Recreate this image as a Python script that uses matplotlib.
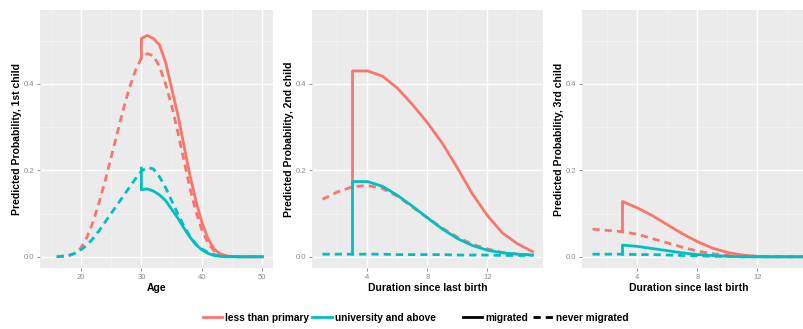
import numpy as np
import matplotlib
matplotlib.use('Agg')
import matplotlib.pyplot as plt
from matplotlib.lines import Line2D
from matplotlib.ticker import MultipleLocator

plt.rcParams['font.family'] = ['Liberation Sans', 'DejaVu Sans']

RED = '#F8766D'
CYAN = '#00BFC4'

# panel 1: age
age = [16, 18, 19, 20, 21, 22, 23, 24, 25, 26, 27, 28, 29, 30, 31, 32, 33,
       34, 35, 36, 37, 38, 39, 40, 41, 42, 43, 44, 46, 50]
p1_red_never = [0.0, 0.002, 0.008, 0.02, 0.045, 0.08, 0.125, 0.175, 0.23, 0.285,
                0.34, 0.39, 0.43, 0.46, 0.47, 0.465, 0.44, 0.40, 0.35, 0.29,
                0.225, 0.16, 0.105, 0.062, 0.032, 0.014, 0.005, 0.002, 0.0, 0.0]
p1_cyan_never = [0.0, 0.003, 0.008, 0.016, 0.027, 0.042, 0.06, 0.08, 0.1, 0.12,
                 0.14, 0.16, 0.18, 0.198, 0.207, 0.203, 0.185, 0.16, 0.13, 0.1,
                 0.072, 0.048, 0.03, 0.018, 0.01, 0.005, 0.002, 0.001, 0.0, 0.0]
age_mig = [30, 30, 31, 32, 33, 34, 35, 36, 37, 38, 39, 40, 41, 42, 43, 44, 46, 50]
p1_red_mig = [0.46, 0.505, 0.512, 0.505, 0.49, 0.45, 0.39, 0.33, 0.26, 0.19,
              0.13, 0.08, 0.042, 0.018, 0.007, 0.002, 0.0, 0.0]
p1_cyan_mig = [0.205, 0.155, 0.157, 0.152, 0.143, 0.13, 0.11, 0.09, 0.067, 0.046,
               0.028, 0.016, 0.008, 0.003, 0.001, 0.0, 0.0, 0.0]

# panels 2 and 3: duration since last birth
dur = [1, 2, 3, 4, 5, 6, 7, 8, 9, 10, 11, 12, 13, 14, 15]
dur_mig = [3, 3, 4, 5, 6, 7, 8, 9, 10, 11, 12, 13, 14, 15]

p2_red_never = [0.133, 0.15, 0.162, 0.165, 0.158, 0.14, 0.115, 0.09, 0.066, 0.045,
                0.029, 0.018, 0.01, 0.006, 0.004]
p2_cyan_never = [0.006, 0.006, 0.006, 0.006, 0.006, 0.005, 0.005, 0.005, 0.005,
                 0.004, 0.004, 0.004, 0.003, 0.003, 0.003]
p2_red_mig = [0.162, 0.43, 0.43, 0.418, 0.39, 0.352, 0.31, 0.262, 0.205, 0.145,
              0.095, 0.055, 0.03, 0.012]
p2_cyan_mig = [0.006, 0.174, 0.174, 0.163, 0.142, 0.117, 0.09, 0.064, 0.042, 0.026,
               0.015, 0.009, 0.006, 0.004]

p3_red_never = [0.064, 0.061, 0.058, 0.052, 0.042, 0.032, 0.022, 0.013, 0.007,
                0.003, 0.001, 0.0, 0.0, 0.0, 0.0]
p3_cyan_never = [0.006, 0.006, 0.006, 0.005, 0.005, 0.004, 0.003, 0.002, 0.001,
                 0.001, 0.0, 0.0, 0.0, 0.0, 0.0]
p3_red_mig = [0.058, 0.128, 0.113, 0.095, 0.074, 0.053, 0.035, 0.02, 0.01, 0.004,
              0.001, 0.0, 0.0, 0.0]
p3_cyan_mig = [0.006, 0.027, 0.024, 0.019, 0.014, 0.009, 0.005, 0.003, 0.001,
               0.0, 0.0, 0.0, 0.0, 0.0]

LW = 2.0
DASH = (0, (2.6, 1.8))

fig = plt.figure(figsize=(8.04, 3.29), dpi=100)

def style(ax, xmaj, xmin, xlim, ylabel, xlabel):
    ax.set_facecolor('#EBEBEB')
    for s in ax.spines.values():
        s.set_visible(False)
    ax.xaxis.set_major_locator(MultipleLocator(xmaj))
    ax.xaxis.set_minor_locator(MultipleLocator(xmin))
    ax.yaxis.set_major_locator(MultipleLocator(0.2))
    ax.yaxis.set_minor_locator(MultipleLocator(0.1))
    ax.grid(True, which='major', color='white', lw=1.0)
    ax.grid(True, which='minor', color='#F5F5F5', lw=0.5)
    ax.set_axisbelow(True)
    ax.set_xlim(*xlim)
    ax.set_ylim(-0.026, 0.571)
    ax.tick_params(which='major', length=2.5, width=0.6, color='#7F7F7F',
                   labelsize=5.5, labelcolor='#8A8A8A', pad=1.5)
    ax.tick_params(which='minor', length=0)
    ax.set_ylabel(ylabel, fontsize=7.5, fontweight='bold', labelpad=1.5)
    ax.set_xlabel(xlabel, fontsize=7.5, fontweight='bold', labelpad=2)
    ax.yaxis.set_major_formatter(matplotlib.ticker.FormatStrFormatter('%.1f'))

ax1 = fig.add_axes([40 / 804, 61 / 329, 233 / 804, 258 / 329])
ax2 = fig.add_axes([312 / 804, 61 / 329, 231 / 804, 258 / 329])
ax3 = fig.add_axes([582 / 804, 61 / 329, 231 / 804, 258 / 329])

ax1.plot(age, p1_red_never, color=RED, lw=LW, ls=DASH)
ax1.plot(age_mig, p1_red_mig, color=RED, lw=LW)
ax1.plot(age, p1_cyan_never, color=CYAN, lw=LW, ls=DASH)
ax1.plot(age_mig, p1_cyan_mig, color=CYAN, lw=LW)
style(ax1, 10, 5, (13.25, 51.75), 'Predicted Probability, 1st child', 'Age')

ax2.plot(dur, p2_red_never, color=RED, lw=LW, ls=DASH)
ax2.plot(dur_mig, p2_red_mig, color=RED, lw=LW)
ax2.plot(dur, p2_cyan_never, color=CYAN, lw=LW, ls=DASH)
ax2.plot(dur_mig, p2_cyan_mig, color=CYAN, lw=LW)
style(ax2, 4, 2, (0.3, 15.7), 'Predicted Probability, 2nd child', 'Duration since last birth')

ax3.plot(dur, p3_red_never, color=RED, lw=LW, ls=DASH)
ax3.plot(dur_mig, p3_red_mig, color=RED, lw=LW)
ax3.plot(dur, p3_cyan_never, color=CYAN, lw=LW, ls=DASH)
ax3.plot(dur_mig, p3_cyan_mig, color=CYAN, lw=LW)
style(ax3, 4, 2, (0.3, 15.7), 'Predicted Probability, 3rd child', 'Duration since last birth')
ax3.xaxis.label.set_position((0.46, 0))

h_edu = [Line2D([], [], color=RED, lw=LW), Line2D([], [], color=CYAN, lw=LW)]
h_mig = [Line2D([], [], color='black', lw=LW),
         Line2D([], [], color='black', lw=LW, ls=DASH)]
leg1 = fig.legend(h_edu, ['less than primary', 'university and above'],
                  loc='center left', bbox_to_anchor=(198 / 804, 11 / 329),
                  ncol=2, frameon=False, fontsize=7.3, handlelength=1.9,
                  handletextpad=0.3, columnspacing=0.3, borderpad=0)
leg2 = fig.legend(h_mig, ['migrated', 'never migrated'],
                  loc='center left', bbox_to_anchor=(458 / 804, 11 / 329),
                  ncol=2, frameon=False, fontsize=7.3, handlelength=1.9,
                  handletextpad=0.3, columnspacing=0.5, borderpad=0)
for leg in (leg1, leg2):
    for t in leg.get_texts():
        t.set_fontweight('bold')

fig.savefig('out.png', dpi=100)
